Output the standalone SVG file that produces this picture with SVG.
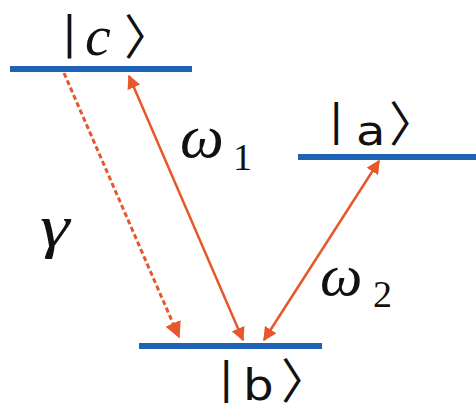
<svg xmlns="http://www.w3.org/2000/svg" width="476" height="408" viewBox="0 0 476 408">
<style>
.lvl{stroke:#1d62b5;stroke-width:6;fill:none}
.arr{stroke:#e8572b;stroke-width:2.5;fill:none}
.dash{stroke:#e8572b;stroke-width:3;fill:none;stroke-dasharray:5 3}
.lbl{font-family:"DejaVu Sans","Liberation Sans",sans-serif;fill:#111}
.br{font-family:"Noto Sans CJK JP","DejaVu Sans",sans-serif;fill:#111;font-size:48px}
.m{font-family:"Liberation Serif","DejaVu Serif",serif;font-style:italic;fill:#111}
.sub{font-family:"Liberation Serif","DejaVu Serif",serif;fill:#111}
</style>
<defs>
<marker id="ah" viewBox="0 0 10 10" refX="9" refY="5" markerWidth="5.5" markerHeight="5.5" orient="auto-start-reverse">
<path d="M0,0 L10,5 L0,10 z" fill="#e8572b"/>
</marker>
</defs>
<g id="level-c">
<line class="lvl" x1="10" y1="69" x2="192" y2="69"/>
<text class="lbl" x="62" y="48" font-size="44">|</text>
<text class="m" x="85" y="55" font-size="58">c</text>
<text class="br" x="124" y="54">〉</text>
</g>
<g id="level-a">
<line class="lvl" x1="298" y1="157" x2="476" y2="157"/>
<text class="lbl" x="329" y="135" font-size="43">|</text>
<text class="lbl" transform="translate(356,145) scale(1.2,1)" font-size="40">a</text>
<text class="br" x="389" y="141">〉</text>
</g>
<g id="level-b">
<line class="lvl" x1="139" y1="346" x2="322" y2="346"/>
<text class="lbl" x="219" y="393" font-size="43">|</text>
<text class="lbl" transform="translate(243,400) scale(1.15,1)" font-size="42">b</text>
<text class="br" x="281" y="398">〉</text>
</g>
<g id="labels">
<text class="m" transform="translate(40,246) scale(1.25,1)" font-size="60">γ</text>
<text class="m" x="180" y="157" font-size="62">ω</text>
<text class="sub" x="233" y="170" font-size="38">1</text>
<text class="m" x="320" y="295" font-size="60">ω</text>
<text class="sub" x="373" y="307" font-size="38">2</text>
</g>
<g id="connectors">
<line class="dash" x1="64" y1="73" x2="179" y2="337" marker-end="url(#ah)"/>
<line class="arr" x1="129" y1="76" x2="243" y2="340" marker-start="url(#ah)" marker-end="url(#ah)"/>
<line class="arr" x1="264" y1="340" x2="379" y2="161" marker-start="url(#ah)" marker-end="url(#ah)"/>
</g>
</svg>
